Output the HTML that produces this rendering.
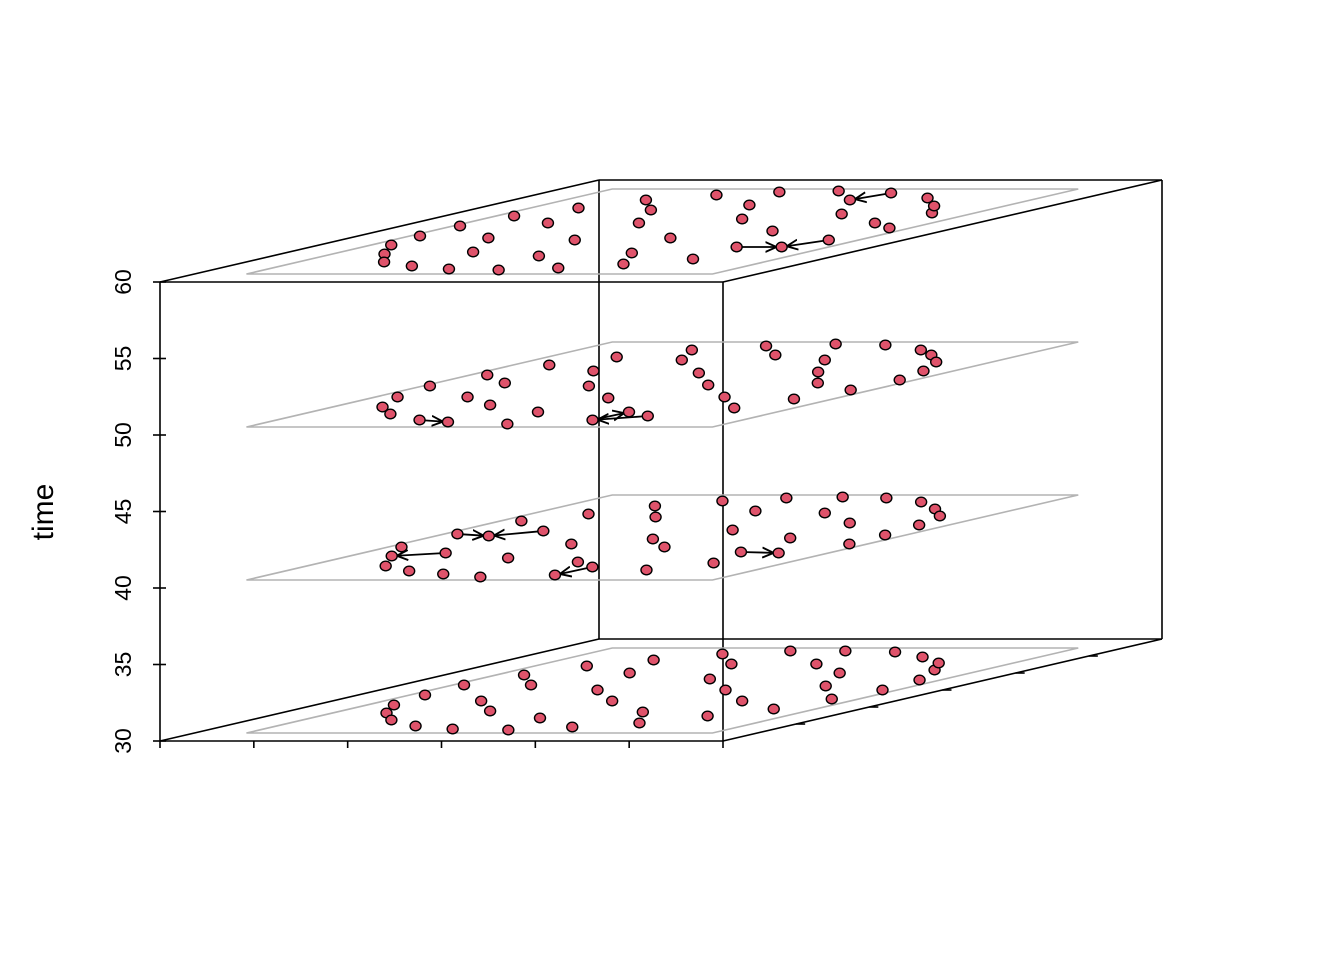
<!DOCTYPE html>
<html><head><meta charset="utf-8">
<style>
html,body{margin:0;padding:0;background:#fff;}
svg{display:block;font-family:"Liberation Sans",sans-serif;}
</style></head>
<body>
<svg id="chart" width="1344" height="960" viewBox="0 0 1344 960" xmlns="http://www.w3.org/2000/svg">
<defs>
<marker id="ah" viewBox="0 0 10 10" refX="9" refY="5" markerWidth="7" markerHeight="7" orient="auto-start-reverse">
<path d="M0,1 L9,5 L0,9" fill="none" stroke="#000" stroke-width="1.5"/>
</marker>
</defs>
<g id="box"></g>
<g id="planes"></g>
<g id="axes"></g>
<g id="arrows"></g>
<g id="pts"></g>
<text x="0" y="0" transform="translate(53,512) rotate(-90)" text-anchor="middle" font-size="30">time</text>
</svg>
<script>
const timeTicks=[30,35,40,45,50,55,60];
const layerTimes=[30,40,50,60];
const layer60x=[72,104,138,183,62,233,59,184,139,287,70,267,134,338,234,100,386,347,225,133,181,321,434,182,426,311,258,393,232,471,488,287,389,337,461,497,348,406,475,447];
const layer60d=[37,28,20,16,46,13,56,30,44,12,66,26,59,14,42,74,18,29,59,82,72,44,23,87,35,63,77,51,90,35,42,91,68,82,59,54,89,84,69,76];
const layer50x=[102,140,74,195,59,232,144,69,201,121,300,279,88,218,158,368,289,121,370,406,199,166,272,333,401,458,223,271,479,387,434,342,284,497,338,503,395,488,427,462];
const layer50d=[28,21,38,15,49,13,38,60,30,52,11,23,70,49,64,15,37,78,23,19,75,85,62,50,38,27,89,80,36,63,52,75,91,45,90,55,85,64,80,73];
const layer40x=[131,94,65,176,223,135,65,273,105,219,73,138,339,222,306,110,342,409,282,142,190,328,446,188,323,426,264,468,239,415,342,291,500,410,497,339,488,391,435,470];
const layer40d=[22,32,41,17,14,35,54,11,52,30,67,57,13,44,26,74,21,18,49,82,71,41,25,87,58,36,77,35,90,50,75,91,44,65,53,90,63,86,79,72];
const layer30x=[106,141,79,191,67,241,63,149,201,301,80,130,281,352,104,218,280,177,402,358,145,440,283,188,346,240,410,476,243,325,429,491,387,298,503,352,497,401,469,443];
const layer30d=[28,21,36,15,46,12,56,40,30,11,66,56,23,14,75,51,40,68,18,29,81,25,62,87,51,77,40,32,90,77,55,42,68,90,51,89,61,84,71,78];
// arrows: [layerIndex(0..3 -> 30..60), fromPoint, toPoint]
const arrowLayer=[3,3,3,2,2,2,1,1,1,1,1];
const arrowFrom=[36,24,30,3,19,15,5,6,11,16,25];
const arrowTo=[33,29,29,5,15,18,1,8,8,12,27];

const layersX=[layer30x,layer40x,layer50x,layer60x];
const layersD=[layer30d,layer40d,layer50d,layer60d];

const NS="http://www.w3.org/2000/svg";
const X0=160,XW=563,YB=741,TSC=(741-282)/30,DX=439/102,DY=1;
function proj(x,d,t){return [X0+x+d*DX, YB-(t-30)*TSC-d*DY];}
function mk(tag,attrs,parent){const e=document.createElementNS(NS,tag);for(const k in attrs)e.setAttribute(k,attrs[k]);parent.appendChild(e);return e;}
const box=document.getElementById('box'),planes=document.getElementById('planes'),axes=document.getElementById('axes'),arrowsG=document.getElementById('arrows'),pts=document.getElementById('pts');
function line(p,q,par,col,name,w){const l=mk('line',{x1:p[0],y1:p[1],x2:q[0],y2:q[1],stroke:col,'stroke-width':w||1.6},par);return l;}

const c=(x,d,t)=>proj(x,d,t);
const edges=[[[0,0,30],[XW,0,30]],[[0,0,60],[XW,0,60]],[[0,0,30],[0,0,60]],[[XW,0,30],[XW,0,60]],
[[0,102,60],[XW,102,60]],[[0,102,30],[XW,102,30]],[[0,102,30],[0,102,60]],[[XW,102,30],[XW,102,60]],
[[0,0,60],[0,102,60]],[[XW,0,60],[XW,102,60]],[[XW,0,30],[XW,102,30]],[[0,0,30],[0,102,30]]];
edges.forEach(e=>line(c(...e[0]),c(...e[1]),box,'#000','box-edge',1.6));

layerTimes.forEach(t=>{
  const p=[c(52,8,t),c(518,8,t),c(518,93,t),c(52,93,t)];
  const poly=mk('polygon',{points:p.map(a=>a.join(',')).join(' '),fill:'none',stroke:'#b3b3b3','stroke-width':1.6},planes);
  
  
});

timeTicks.forEach(t=>{
  const p=c(0,0,t);
  line([p[0]+6,p[1]],[p[0]-7,p[1]],axes,'#000','time-tick',1.6);
  const tx=mk('text',{transform:`translate(${p[0]-29},${p[1]}) rotate(-90)`,'text-anchor':'middle','font-size':23},axes);
  tx.textContent=t;
  
  
});
for(let k=0;k<=6;k++){const p=c(XW*k/6,0,30);line(p,[p[0],p[1]+7],axes,'#000','x-tick',1.6);}
for(let k=1;k<=5;k++){const p=c(XW,102*k/6,30);line(p,[p[0]+9,p[1]],axes,'#000','depth-tick',1.6);}

arrowLayer.forEach((li,i)=>{
  const t=layerTimes[li],xs=layersX[li],ds=layersD[li];
  const a=c(xs[arrowFrom[i]],ds[arrowFrom[i]],t),b=c(xs[arrowTo[i]],ds[arrowTo[i]],t);
  const dx=b[0]-a[0],dy=b[1]-a[1],L=Math.hypot(dx,dy)||1,ux=dx/L,uy=dy/L;
  const l=mk('line',{x1:a[0]+ux*5,y1:a[1]+uy*5,x2:b[0]-ux*5,y2:b[1]-uy*5,stroke:'#000','stroke-width':1.8,'marker-end':'url(#ah)'},arrowsG);
  
  
});

layerTimes.forEach((t,li)=>{
  layersX[li].forEach((x,i)=>{
    const p=c(x,layersD[li][i],t);
    const e=mk('ellipse',{cx:p[0],cy:p[1],rx:5.5,ry:4.8,fill:'#DF536B',stroke:'#000','stroke-width':1.4},pts);
    
    
  });
});
</script>
</body></html>
